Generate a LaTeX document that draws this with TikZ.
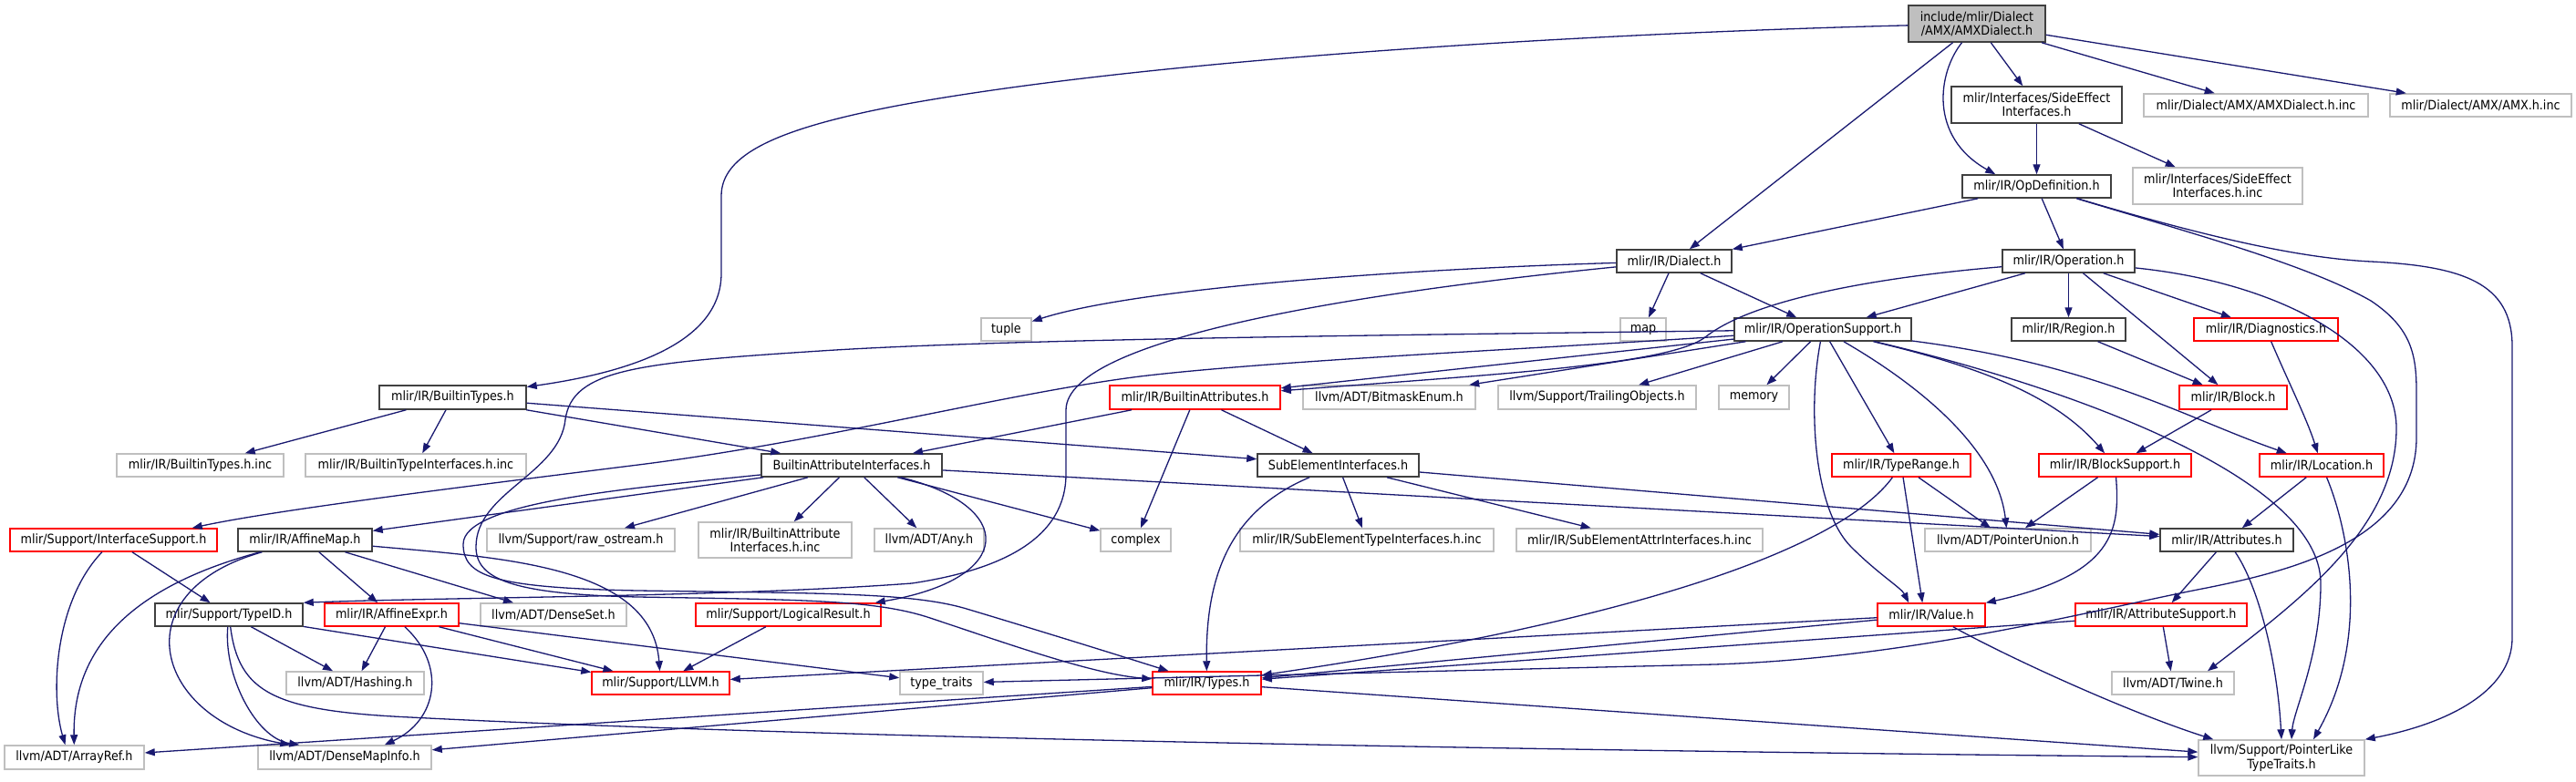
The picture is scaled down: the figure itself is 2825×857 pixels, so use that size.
\documentclass[tikz,border=0pt]{standalone}
\usepackage{fontspec}
\setmainfont{DejaVu Sans Condensed}
\usetikzlibrary{arrows.meta,calc}
\definecolor{ebl}{HTML}{191970}
\definecolor{gry}{HTML}{BFBFBF}
\definecolor{dk}{HTML}{404040}
\tikzset{
 nb/.style={draw, fill=white, inner sep=0pt, font=\fontsize{7.1}{7.6}\selectfont, align=center, line width=0.75pt},
 gb/.style={nb, draw=gry},
 bb/.style={nb, draw=dk},
 rb/.style={nb, draw=red},
 rt/.style={nb, draw=dk, fill=gry},
 ed/.style={draw=ebl, line width=0.65pt, -{Triangle[length=5.5pt,width=4pt]}}
}
\newcommand\nd[7]{\node[#1, minimum width={(#5-#3)*0.5pt}, minimum height={(#6-#4)*0.5pt}] (#2) at ({(#3+#5)/2},{(#4+#6)/2}) {#7};}
\begin{document}
\begin{tikzpicture}[x=0.5pt,y=-0.5pt]
\fill[white] (0,0) rectangle (2825,857);
\useasboundingbox (0,0) rectangle (2825,857);
% nodes
\nd{rt}{amx}{2093}{6}{2243}{46}{include/mlir/Dialect\\/AMX/AMXDialect.h}
\nd{bb}{sei}{2140}{95}{2327}{135}{mlir/Interfaces/SideEffect\\Interfaces.h}
\nd{gb}{amxinc}{2351}{103}{2597}{128}{mlir/Dialect/AMX/AMXDialect.h.inc}
\nd{gb}{amxhinc}{2621}{103}{2820}{128}{mlir/Dialect/AMX/AMX.h.inc}
\nd{bb}{opdef}{2152}{192}{2315}{217}{mlir/IR/OpDefinition.h}
\nd{gb}{seiinc}{2339}{184}{2525}{224}{mlir/Interfaces/SideEffect\\Interfaces.h.inc}
\nd{bb}{dialect}{1773}{274}{1899}{299}{mlir/IR/Dialect.h}
\nd{bb}{operation}{2196}{274}{2341}{299}{mlir/IR/Operation.h}
\nd{gb}{tuple}{1076}{349}{1131}{374}{tuple}
\nd{gb}{map}{1777}{349}{1827}{374}{map}
\nd{bb}{opsupport}{1902}{349}{2096}{374}{mlir/IR/OperationSupport.h}
\nd{bb}{region}{2206}{349}{2331}{374}{mlir/IR/Region.h}
\nd{rb}{diag}{2406}{349}{2564}{374}{mlir/IR/Diagnostics.h}
\nd{bb}{btypes}{416}{423}{577}{449}{mlir/IR/BuiltinTypes.h}
\nd{rb}{battrs}{1217}{423}{1404}{449}{mlir/IR/BuiltinAttributes.h}
\nd{gb}{bitmask}{1429}{423}{1618}{449}{llvm/ADT/BitmaskEnum.h}
\nd{gb}{trailing}{1643}{423}{1860}{449}{llvm/Support/TrailingObjects.h}
\nd{gb}{memory}{1885}{423}{1962}{449}{memory}
\nd{rb}{block}{2390}{423}{2508}{449}{mlir/IR/Block.h}
\nd{gb}{btinc}{128}{498}{311}{523}{mlir/IR/BuiltinTypes.h.inc}
\nd{gb}{btiinc}{335}{498}{577}{523}{mlir/IR/BuiltinTypeInterfaces.h.inc}
\nd{bb}{bai}{835}{498}{1033}{523}{BuiltinAttributeInterfaces.h}
\nd{bb}{subel}{1379}{498}{1556}{523}{SubElementInterfaces.h}
\nd{rb}{typerange}{2009}{498}{2161}{523}{mlir/IR/TypeRange.h}
\nd{rb}{blocksupp}{2236}{498}{2403}{523}{mlir/IR/BlockSupport.h}
\nd{rb}{location}{2478}{498}{2614}{523}{mlir/IR/Location.h}
\nd{rb}{ifsupp}{11}{580}{238}{605}{mlir/Support/InterfaceSupport.h}
\nd{bb}{affmap}{261}{580}{408}{605}{mlir/IR/AffineMap.h}
\nd{gb}{rawos}{534}{580}{740}{605}{llvm/Support/raw\_ostream.h}
\nd{gb}{baiinc}{766}{573}{934}{612}{mlir/IR/BuiltinAttribute\\Interfaces.h.inc}
\nd{gb}{any}{959}{580}{1079}{605}{llvm/ADT/Any.h}
\nd{gb}{complex}{1207}{580}{1284}{605}{complex}
\nd{gb}{setinc}{1360}{580}{1638}{605}{mlir/IR/SubElementTypeInterfaces.h.inc}
\nd{gb}{seainc}{1663}{580}{1933}{605}{mlir/IR/SubElementAttrInterfaces.h.inc}
\nd{gb}{ptrunion}{2111}{580}{2293}{605}{llvm/ADT/PointerUnion.h}
\nd{bb}{attrs}{2369}{580}{2515}{605}{mlir/IR/Attributes.h}
\nd{bb}{typeid}{170}{662}{332}{687}{mlir/Support/TypeID.h}
\nd{rb}{affexpr}{356}{662}{503}{687}{mlir/IR/AffineExpr.h}
\nd{gb}{denseset}{527}{662}{687}{687}{llvm/ADT/DenseSet.h}
\nd{rb}{logres}{763}{662}{966}{687}{mlir/Support/LogicalResult.h}
\nd{rb}{value}{2059}{662}{2177}{687}{mlir/IR/Value.h}
\nd{rb}{attrsupp}{2276}{662}{2464}{687}{mlir/IR/AttributeSupport.h}
\nd{gb}{hashing}{314}{737}{465}{762}{llvm/ADT/Hashing.h}
\nd{rb}{llvmh}{649}{737}{800}{762}{mlir/Support/LLVM.h}
\nd{gb}{typetraits}{987}{737}{1078}{762}{type\_traits}
\nd{rb}{types}{1264}{737}{1383}{762}{mlir/IR/Types.h}
\nd{gb}{twine}{2316}{737}{2450}{762}{llvm/ADT/Twine.h}
\nd{gb}{arrayref}{5}{818}{158}{844}{llvm/ADT/ArrayRef.h}
\nd{gb}{densemap}{283}{818}{473}{844}{llvm/ADT/DenseMapInfo.h}
\nd{gb}{ptrlike}{2411}{812}{2593}{851}{llvm/Support/PointerLike\\TypeTraits.h}
% edges
\draw[ed] (amx) .. controls (1800,35) and (1300,60) .. (1000,113) .. controls (850,140) and (791,170) .. (791,215) -- (791,300) .. controls (791,380) and (680,410) .. (btypes);
\draw[ed] (amx) -- (dialect);
\draw[ed] (amx) .. controls (2125,80) and (2115,150) .. ($(opdef.north west)+(37,0)$);
\draw[ed] (amx) -- (sei);
\draw[ed] (amx) -- (amxinc);
\draw[ed] (amx) -- (amxhinc);
\draw[ed] (sei) -- (opdef);
\draw[ed] (sei) -- (seiinc);
\draw[ed] (opdef) -- (dialect);
\draw[ed] (opdef) -- (operation);
\draw[ed] (opdef) .. controls (2420,260) and (2520,283) .. (2600,287) .. controls (2700,292) and (2755,310) .. (2755,380) -- (2755,700) .. controls (2755,760) and (2680,795) .. (ptrlike.north east);
\draw[ed] (opdef) .. controls (2400,255) and (2530,290) .. (2600,330) .. controls (2645,360) and (2650,390) .. (2650,430) -- (2650,480) .. controls (2650,590) and (2520,625) .. (2420,645) .. controls (2300,668) and (2100,722) .. (1880,729) -- (typetraits);
\draw[ed] (operation) -- (opsupport);
\draw[ed] (operation) -- (region);
\draw[ed] (operation) -- (diag);
\draw[ed] (operation) -- (block);
\draw[ed] (operation) .. controls (2050,305) and (1920,330) .. (1870,370) .. controls (1830,400) and (1650,410) .. (battrs);
\draw[ed] (operation) .. controls (2500,310) and (2628,380) .. (2628,470) .. controls (2628,580) and (2520,660) .. ($(twine.north)+(38,0)$);
\draw[ed] (dialect) .. controls (1550,295) and (1250,315) .. (tuple);
\draw[ed] (dialect) -- (map);
\draw[ed] (dialect) -- (opsupport);
\draw[ed] (dialect) .. controls (1500,320) and (1169,370) .. (1169,450) -- (1169,520) .. controls (1169,590) and (1100,625) .. (1000,640) .. controls (800,655) and (500,655) .. (typeid.north east);
\draw[ed] (opsupport) -- (battrs);
\draw[ed] (opsupport) -- (bitmask);
\draw[ed] (opsupport) -- (trailing);
\draw[ed] (opsupport) -- (memory);
\draw[ed] (opsupport) -- (typerange);
\draw[ed] (opsupport) .. controls (2100,420) and (2190,490) .. (ptrunion);
\draw[ed] (opsupport) .. controls (2160,400) and (2250,430) .. (blocksupp);
\draw[ed] (opsupport) .. controls (1982,450) and (1990,560) .. (2030,600) .. controls (2060,630) and (2085,645) .. ($(value.north west)+(35,0)$);
\draw[ed] (opsupport) .. controls (2300,400) and (2400,460) .. (location);
\draw[ed] (opsupport) .. controls (2250,420) and (2545,520) .. (2545,640) .. controls (2545,720) and (2515,780) .. ($(ptrlike.north)+(11,0)$);
\draw[ed] (opsupport) .. controls (1700,382) and (1400,395) .. (1250,413) .. controls (1100,432) and (900,485) .. (700,510) .. controls (500,535) and (300,560) .. ($(ifsupp.north east)+(-28,0)$);
\draw[ed] (opsupport) .. controls (1500,368) and (1100,372) .. (900,385) .. controls (700,398) and (628,405) .. (620,460) .. controls (614,520) and (522,540) .. (522,600) .. controls (522,635) and (560,652) .. (700,655) .. controls (880,658) and (960,658) .. (1020,678) .. controls (1110,708) and (1200,740) .. (types);
\draw[ed] (btypes) -- (btinc);
\draw[ed] (btypes) -- (btiinc);
\draw[ed] (btypes) -- (bai);
\draw[ed] (btypes) -- (subel);
\draw[ed] (battrs) -- (bai);
\draw[ed] (battrs) -- (subel);
\draw[ed] (battrs) -- (complex);
\draw[ed] (bai) -- (affmap);
\draw[ed] (bai) -- (rawos);
\draw[ed] (bai) -- (baiinc);
\draw[ed] (bai) -- (any);
\draw[ed] (bai) -- (complex);
\draw[ed] (bai) .. controls (1115,555) and (1115,635) .. ($(logres.north east)+(-7,0)$);
\draw[ed] (bai) -- (attrs);
\draw[ed] (bai) .. controls (700,535) and (508,550) .. (508,597) .. controls (508,632) and (540,645) .. (700,648) .. controls (900,651) and (1000,650) .. (1060,668) .. controls (1150,695) and (1230,720) .. (types);
\draw[ed] (subel) .. controls (1350,560) and (1322,630) .. (types);
\draw[ed] (subel) -- (setinc);
\draw[ed] (subel) -- (seainc);
\draw[ed] (subel) -- (attrs);
\draw[ed] (affmap) -- (affexpr);
\draw[ed] (affmap) -- (denseset);
\draw[ed] (affmap) .. controls (550,612) and (715,620) .. (llvmh);
\draw[ed] (affmap) .. controls (130,650) and (170,790) .. ($(densemap.north west)+(36,0)$);
\draw[ed] (affmap) .. controls (120,650) and (80,730) .. (arrayref);
\draw[ed] (ifsupp) -- (typeid);
\draw[ed] (ifsupp) .. controls (60,660) and (55,760) .. ($(arrayref.north)+(-10,0)$);
\draw[ed] (typeid) -- (hashing);
\draw[ed] (typeid) -- (llvmh);
\draw[ed] (typeid) .. controls (245,740) and (280,810) .. ($(densemap.north west)+(46,0)$);
\draw[ed] (typeid) .. controls (262,760) and (300,780) .. (450,787) .. controls (800,805) and (1500,822) .. (ptrlike);
\draw[ed] (affexpr) -- (hashing);
\draw[ed] (affexpr) -- (llvmh);
\draw[ed] (affexpr) .. controls (490,730) and (480,790) .. ($(densemap.north east)+(-52,0)$);
\draw[ed] (affexpr) -- (typetraits);
\draw[ed] (logres) -- (llvmh);
\draw[ed] (types) -- (arrayref);
\draw[ed] (types) -- (densemap);
\draw[ed] (types) -- (ptrlike);
\draw[ed] (value) -- (types);
\draw[ed] (value) -- (llvmh);
\draw[ed] (value) .. controls (2200,720) and (2330,780) .. ($(ptrlike.north west)+(17,0)$);
\draw[ed] (typerange) -- (ptrunion);
\draw[ed] (typerange) -- ($(value.north west)+(50,0)$);
\draw[ed] (typerange) .. controls (2020,600) and (1800,680) .. (types);
\draw[ed] (blocksupp) -- (ptrunion);
\draw[ed] (blocksupp) .. controls (2325,580) and (2320,630) .. (value);
\draw[ed] (block) -- (blocksupp);
\draw[ed] (region) -- (block);
\draw[ed] (diag) .. controls (2510,420) and (2530,460) .. (location);
\draw[ed] (location) -- (attrs);
\draw[ed] (location) .. controls (2575,580) and (2600,700) .. ($(ptrlike.north)+(35,0)$);
\draw[ed] (attrs) -- (attrsupp);
\draw[ed] (attrs) .. controls (2475,640) and (2497,720) .. (ptrlike.north);
\draw[ed] (attrsupp) -- (types);
\draw[ed] (attrsupp) -- (twine);
\end{tikzpicture}
\end{document}
